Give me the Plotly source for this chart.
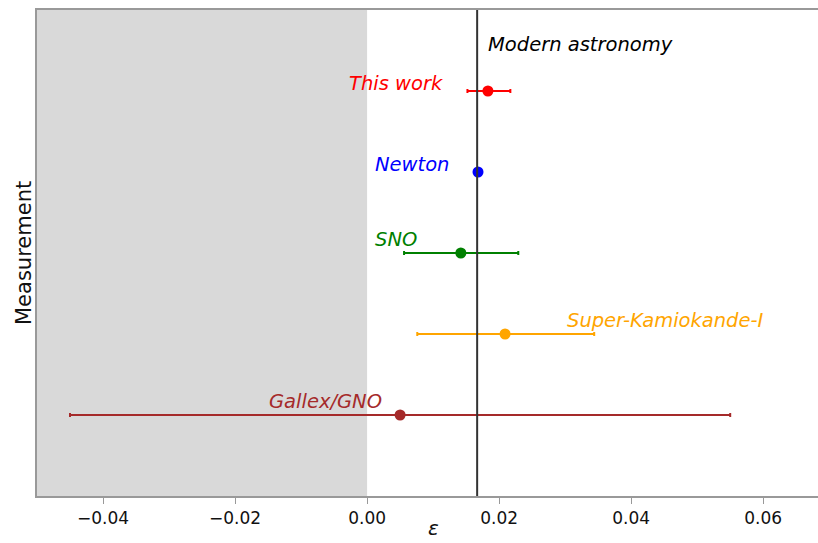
import plotly.graph_objects as go

names = ["This work", "Newton", "SNO", "Super-Kamiokande-I", "Gallex/GNO"]
eps = [0.0183, 0.0168, 0.0142, 0.0209, 0.0050]
err_minus = [0.0031, 0.0, 0.0086, 0.0133, 0.0500]
err_plus = [0.0034, 0.0, 0.0087, 0.0135, 0.0500]
ypos = [5, 4, 3, 2, 1]
colors = ["red", "blue", "green", "orange", "brown"]
label_x = [-0.0030, 0.0009, 0.0009, 0.0300, -0.0152]
label_y = [5.09, 4.09, 3.17, 2.17, 1.17]
modern_eps = 0.01667
modern_label = "Modern astronomy"

fig = go.Figure()

fig.add_shape(type="rect", xref="x", yref="paper", x0=-0.05, x1=0.0, y0=0, y1=1,
              fillcolor="#d9d9d9", line_width=0, layer="below")
fig.add_shape(type="line", xref="x", yref="paper", x0=modern_eps, x1=modern_eps, y0=0, y1=1,
              line=dict(color="#333333", width=2))

for n, x, em, ep, y, c in zip(names, eps, err_minus, err_plus, ypos, colors):
    fig.add_trace(go.Scatter(
        x=[x], y=[y], mode="markers",
        marker=dict(color=c, size=11),
        error_x=dict(type="data", symmetric=False, array=[ep], arrayminus=[em],
                     color=c, thickness=2, width=2, visible=(ep > 0)),
        showlegend=False, name=n))

for n, lx, ly, c in zip(names, label_x, label_y, colors):
    fig.add_annotation(x=lx, y=ly, text="<i>%s</i>" % n, showarrow=False,
                       xanchor="left", yanchor="middle",
                       font=dict(color=c, size=19.5, family="DejaVu Sans"))
fig.add_annotation(x=0.018, y=5.58, text="<i>%s</i>" % modern_label, showarrow=False,
                   xanchor="left", yanchor="middle",
                   font=dict(color="black", size=19.5, family="DejaVu Sans"))

# axis titles
fig.add_annotation(xref="paper", yref="paper", x=-13 / 781, y=0.5, text="Measurement",
                   textangle=-90, showarrow=False, xanchor="center", yanchor="middle",
                   font=dict(size=21, color="#111111", family="DejaVu Sans"))
fig.add_annotation(xref="x", yref="paper", x=0.0100, y=-46 / 486, text="<i>\u03b5</i>",
                   showarrow=False, xanchor="center", yanchor="bottom",
                   font=dict(size=20, color="#111111", family="DejaVu Sans"))

fig.update_layout(
    width=818, height=543,
    margin=dict(l=37, r=0, t=10, b=47),
    plot_bgcolor="white", paper_bgcolor="white",
    font=dict(family="DejaVu Sans", color="#111111"),
    xaxis=dict(range=[-0.05, 0.0683], showgrid=False, zeroline=False, automargin=False,
               tickvals=[-0.04, -0.02, 0.0, 0.02, 0.04, 0.06],
               ticktext=["\u22120.04", "\u22120.02", "0.00", "0.02", "0.04", "0.06"],
               ticks="outside", ticklen=6, tickcolor="#999999",
               tickfont=dict(size=17, color="#111111"),
               showline=True, linecolor="#999999", linewidth=2, mirror=True),
    yaxis=dict(range=[0, 6], showgrid=False, zeroline=False, showticklabels=False,
               automargin=False,
               ticks="", showline=True, linecolor="#999999", linewidth=2, mirror=False),
)

fig.write_html("out.html")
